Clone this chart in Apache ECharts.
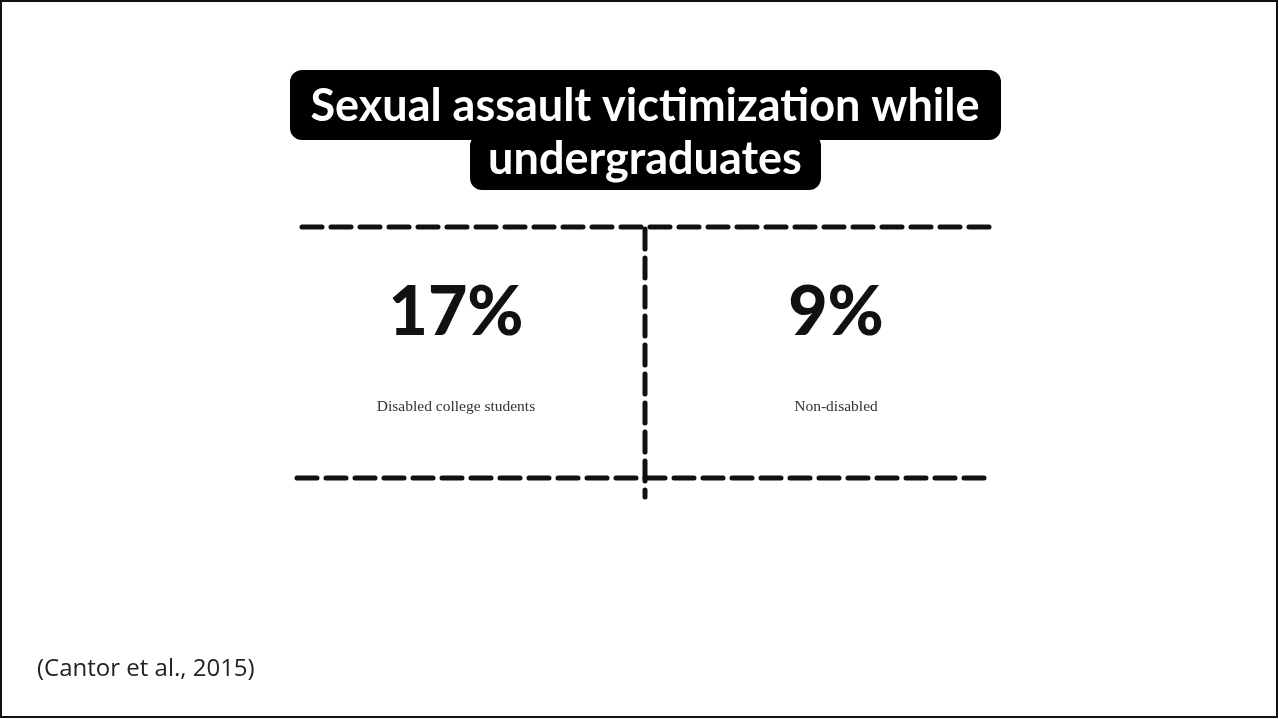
<!DOCTYPE html>
<html>
<head>
<meta charset="utf-8">
<style>
  html, body { margin: 0; padding: 0; background: #fff; }
  #chart { width: 1279px; height: 719px; }
</style>
<script src="https://cdn.jsdelivr.net/npm/echarts@6/dist/echarts.min.js"></script>
</head>
<body>
<div id="chart"></div>
<script>
// groups and their share (%) of sexual assault victimization
const groups = ['Disabled college students', 'Non-disabled'];
const shares = [17, 9];
const titleLines = ['Sexual assault victimization while', 'undergraduates'];
const citation = '(Cantor et al., 2015)';

const chart = echarts.init(document.getElementById('chart'));

// dashed rule style, shared by the three separators
const dash = { stroke: '#111', lineWidth: 5, lineDash: [20, 9], lineCap: 'round' };

const option = {
  backgroundColor: '#fff',
  animation: false,
  grid: { left: 266, right: 253, top: 231, bottom: 324 },
  xAxis: {
    type: 'category',
    data: groups,
    axisLine: { show: false },
    axisTick: { show: false },
    splitLine: { show: false },
    axisLabel: {
      margin: 4,
      color: '#333',
      fontFamily: 'Liberation Serif',
      fontSize: 15.5
    }
  },
  yAxis: {
    type: 'category',
    data: ['share'],
    show: false
  },
  series: [
    {
      type: 'scatter',
      symbolSize: 0,
      itemStyle: { opacity: 1 },
      data: shares.map((v, i) => [i, 0]),
      label: {
        show: true,
        position: 'inside',
        formatter: (p) => shares[p.dataIndex] + '%',
        color: '#111',
        fontFamily: 'Lato',
        fontWeight: 900,
        fontSize: 68
      }
    }
  ],
  graphic: [
    // slide frame
    { type: 'rect', shape: { x: 1, y: 1, width: 1276, height: 716 },
      style: { fill: 'none', stroke: '#111', lineWidth: 2 }, silent: true },
    // title boxes
    { type: 'rect', shape: { x: 290, y: 70, width: 711, height: 70, r: 12 },
      style: { fill: '#000' } },
    { type: 'rect', shape: { x: 470, y: 134, width: 351, height: 56, r: 12 },
      style: { fill: '#000' } },
    { type: 'text', x: 645, y: 106,
      style: { text: titleLines[0], fill: '#fff', font: 'bold 45px Lato',
        align: 'center', verticalAlign: 'middle' } },
    { type: 'text', x: 645, y: 159,
      style: { text: titleLines[1], fill: '#fff', font: 'bold 45px Lato',
        align: 'center', verticalAlign: 'middle' } },
    // separators
    { type: 'line', shape: { x1: 302, y1: 227, x2: 992, y2: 227 }, style: dash },
    { type: 'line', shape: { x1: 297, y1: 478, x2: 987, y2: 478 }, style: dash },
    { type: 'line', shape: { x1: 645, y1: 229, x2: 645, y2: 497 }, style: dash },
    // source
    { type: 'text', x: 37, y: 669,
      style: { text: citation, fill: '#222', font: '24px "Open Sans"',
        verticalAlign: 'middle' } }
  ]
};

chart.setOption(option);
</script>
</body>
</html>
